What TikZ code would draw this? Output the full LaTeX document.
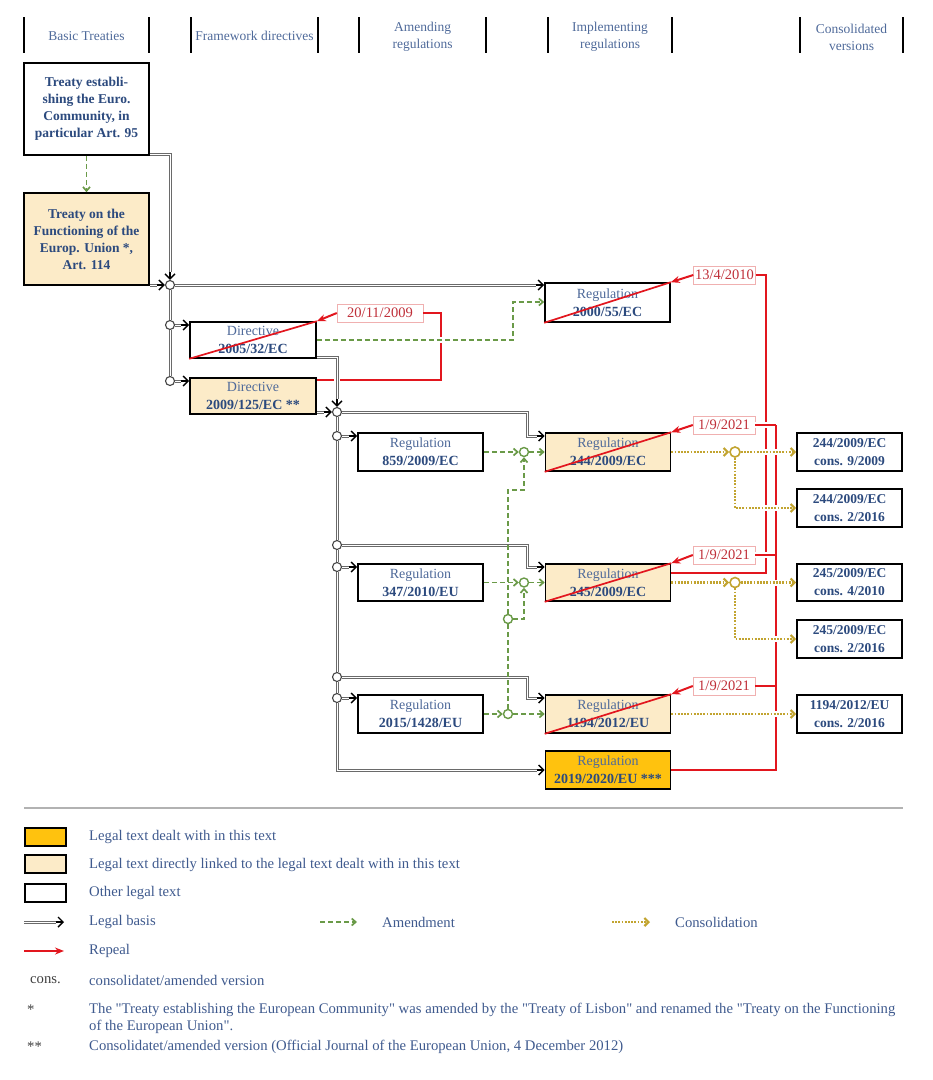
\documentclass[tikz,border=0pt]{standalone}
\usepackage{fontspec}
\setmainfont{Liberation Serif}
\newfontfamily\qfont[Ligatures=TeXOff]{Liberation Serif}
\usetikzlibrary{arrows.meta,calc}
\definecolor{hdblue}{HTML}{4F6A9A}
\definecolor{bxblue}{HTML}{2C4A7E}
\definecolor{rgblue}{HTML}{4F6A9A}
\definecolor{lgblue}{HTML}{3F5A8E}
\definecolor{lyel}{HTML}{FCEBC8}
\definecolor{mygold}{HTML}{FFC20E}
\definecolor{amgreen}{HTML}{6A9A48}
\definecolor{consc}{HTML}{C2A430}
\definecolor{rep}{HTML}{E2161E}
\definecolor{labred}{HTML}{C0303A}
\definecolor{labedge}{HTML}{F0B0B0}
\definecolor{lbgray}{HTML}{6A6A6A}
\definecolor{jgray}{HTML}{444444}
\tikzset{
 bx/.style={draw=black, line width=1.6pt, inner sep=0pt, align=center, text=bxblue,
   font=\fontsize{14}{18}\selectfont, minimum width=125pt, minimum height=38pt},
 tb/.style={bx, font=\fontsize{13.5}{17}\selectfont\bfseries, minimum height=92pt},
 cb/.style={bx, font=\fontsize{13.5}{18}\selectfont\bfseries, minimum width=105pt},
 jn/.style={circle, draw=jgray, fill=white, line width=1.1pt, inner sep=0pt, minimum size=9pt},
 gj/.style={jn, draw=amgreen, line width=1.4pt},
 yj/.style={jn, draw=consc, line width=1.6pt, minimum size=10pt},
 lbl/.style={draw=labedge, fill=white, text=labred, font=\fontsize{14.5}{16}\selectfont,
   inner sep=1pt, minimum height=18pt, minimum width=62pt},
 hd/.style={align=center, text=hdblue, font=\fontsize{13.5}{17}\selectfont, inner sep=0pt},
 lb/.style={draw=lbgray, line width=3pt, postaction={draw=white, line width=1pt}},
 halo/.style={preaction={draw=white, line width=6pt, solid, -}},
 lbtip/.style={draw=black, line width=1.4pt, -{Straight Barb[length=5pt,width=10pt]}},
 am/.style={draw=amgreen, line width=1.7pt, dash pattern=on 5pt off 3pt, -{Straight Barb[length=4pt,width=7pt]}},
 amn/.style={draw=amgreen, line width=1.7pt, dash pattern=on 5pt off 3pt},
 cn/.style={draw=consc, line width=2.2pt, dash pattern=on 1.8pt off 1.4pt, -{Straight Barb[length=4pt,width=8pt]}},
 rp/.style={draw=rep, line width=2.8pt},
 rpa/.style={draw=rep, line width=2pt, -{Stealth[length=9pt,width=7pt]}},
 strike/.style={draw=rep, line width=1.7pt},
 lgbox/.style={draw=black, line width=2pt, minimum width=41pt, minimum height=18pt, inner sep=0pt},
 lgt/.style={anchor=west, inner sep=0pt, text=lgblue, font=\fontsize{14.7}{17}\selectfont},
}
\newcommand{\rg}[1]{{\color{rgblue}Regulation}\\\textbf{#1}}
\newcommand{\qq}{{\qfont"}}
\begin{document}
\begin{tikzpicture}[x=1pt,y=-1pt]
\useasboundingbox (0,0) rectangle (933,1080);
% header
\foreach \xx in {24,149,191,318,359,486,548,672,800,903}
  \draw[line width=2pt] (\xx,17) -- (\xx,53);
\node[hd] (h1) at (86.5,36) {Basic Treaties};
\node[hd] (h2) at (254.5,36) {Framework directives};
\node[hd] (h3) at (422.5,37) {Amending\\regulations};
\node[hd] (h4) at (610,37) {Implementing\\regulations};
\node[hd] (h5) at (851.5,37) {Consolidated\\versions};
% boxes
\node[tb, fill=white] (tec) at (86.5,109) {Treaty establi-\\shing the Euro.\\Community, in\\particular Art. 95};
\node[tb, fill=lyel] (tfeu) at (86.5,239) {Treaty on the\\Functioning of the\\Europ. Union *,\\Art. 114};
\node[bx, fill=white, minimum width=126pt, minimum height=36pt] (dir2005) at (253,340) {{\color{rgblue}Directive}\\\textbf{2005/32/EC}};
\node[bx, fill=lyel, minimum width=126pt, minimum height=36pt] (dir2009) at (253,396) {{\color{rgblue}Directive}\\\textbf{2009/125/EC **}};
\node[bx, fill=white, minimum height=39pt] (r2000) at (607.5,302.5) {\rg{2000/55/EC}};
\node[bx, fill=white] (r859) at (420.5,452) {\rg{859/2009/EC}};
\node[bx, fill=lyel] (r244) at (608,452) {\rg{244/2009/EC}};
\node[bx, fill=white, minimum height=37pt] (r347) at (420.5,582.5) {\rg{347/2010/EU}};
\node[bx, fill=lyel, minimum height=37pt] (r245) at (608,582.5) {\rg{245/2009/EC}};
\node[bx, fill=white] (r2015) at (420.5,714) {\rg{2015/1428/EU}};
\node[bx, fill=lyel] (r1194) at (608,714) {\rg{1194/2012/EU}};
\node[bx, fill=mygold] (r2019) at (608,770) {\rg{2019/2020/EU ***}};
\node[cb, fill=white] (c1) at (849.5,452) {244/2009/EC\\cons. 9/2009};
\node[cb, fill=white] (c2) at (849.5,508) {244/2009/EC\\cons. 2/2016};
\node[cb, fill=white, minimum height=37pt] (c3) at (849.5,582.5) {245/2009/EC\\cons. 4/2010};
\node[cb, fill=white] (c4) at (849.5,639) {245/2009/EC\\cons. 2/2016};
\node[cb, fill=white] (c5) at (849.5,714) {1194/2012/EU\\cons. 2/2016};
% junctions
\node[jn] (J1) at (170,285) {};
\node[jn] (Ja) at (170,325) {};
\node[jn] (Jb) at (170,381) {};
\node[jn] (J2) at (337,412) {};
\node[jn] (Jc) at (337,436) {};
\node[jn] (Jd) at (337,545) {};
\node[jn] (Je) at (337,567) {};
\node[jn] (Jf) at (337,677) {};
\node[jn] (Jg) at (337,698) {};
\coordinate (Kb) at (337,770);
\node[gj] (G1) at (524,452) {};
\node[gj] (G2) at (524,582.5) {};
\node[gj] (G3) at (508,714) {};
\node[gj] (G4) at (508,619) {};
\node[yj] (Y1) at (735,452) {};
\node[yj] (Y2) at (735,582.5) {};
% labels
\node[lbl, minimum width=86pt] (lab1) at (380,313) {20/11/2009};
\node[lbl] (lab2) at (724.5,275) {13/4/2010};
\node[lbl] (lab3) at (724,425) {1/9/2021};
\node[lbl] (lab4) at (724,555) {1/9/2021};
\node[lbl] (lab5) at (724,686) {1/9/2021};
% ---- red repeal routes
\coordinate (p1) at (441,313);
\coordinate (p2) at (441,380);
\draw[rp] (lab1.east) -- (p1) -- (p2) -- (dir2009.east |- p2);
\coordinate (q1) at (766,275);
\coordinate (q2) at (766,573);
\draw[rp] (lab2.east) -- (q1) -- (q2) -- (r245.east |- q2);
\coordinate (s3) at (776,425);
\coordinate (s4) at (776,555);
\coordinate (s5) at (776,686);
\coordinate (s6) at (776,770);
\draw[rp, halo] (lab3.east) -- (s3);
\draw[rp, halo] (lab4.east) -- (s4);
\draw[rp] (lab5.east) -- (s5);
\draw[rp] (r2019.east) -- (s6) -- (s3);
% ---- legal basis
\draw[lb] ($(tec.south east)+(0,-1.5)$) -| ($(J1.north)+(0,-8)$);
\draw[lbtip] ($(J1.north)+(0,-8)$) -- (J1.north);
\draw[lb] (tfeu.east |- J1) -- ($(J1.west)+(-8,0)$);
\draw[lbtip] ($(J1.west)+(-8,0)$) -- (J1.west);
\draw[lb] (J1.east) -- ($(r2000.west |- J1)+(-8,0)$);
\draw[lbtip] ($(r2000.west |- J1)+(-8,0)$) -- (r2000.west |- J1);
\draw[lb] (J1.south) -- (Ja.north);
\draw[lb] (Ja.south) -- (Jb.north);
\draw[lb] (Ja.east) -- ($(dir2005.west |- Ja)+(-8,0)$);
\draw[lbtip] ($(dir2005.west |- Ja)+(-8,0)$) -- (dir2005.west |- Ja);
\draw[lb] (Jb.east) -- ($(dir2009.west |- Jb)+(-8,0)$);
\draw[lbtip] ($(dir2009.west |- Jb)+(-8,0)$) -- (dir2009.west |- Jb);
\draw[lb, halo] ($(dir2005.south east)+(0,-1.5)$) -| ($(J2.north)+(0,-8)$);
\draw[lbtip] ($(J2.north)+(0,-8)$) -- (J2.north);
\draw[lb] (dir2009.east |- J2) -- ($(J2.west)+(-8,0)$);
\draw[lbtip] ($(J2.west)+(-8,0)$) -- (J2.west);
\coordinate (m1) at (527,412);
\coordinate (m2) at (527,436);
\draw[lb] (J2.east) -- (m1) -- (m2) -- ($(r244.west |- m2)+(-8,0)$);
\draw[lbtip] ($(r244.west |- m2)+(-8,0)$) -- (r244.west |- m2);
\draw[lb] (J2.south) -- (Jc.north);
\draw[lb] (Jc.south) -- (Jd.north);
\draw[lb] (Jd.south) -- (Je.north);
\draw[lb] (Je.south) -- (Jf.north);
\draw[lb] (Jf.south) -- (Jg.north);
\draw[lb] (Jg.south) -- (Kb) -- ($(r2019.west |- Kb)+(-8,0)$);
\draw[lbtip] ($(r2019.west |- Kb)+(-8,0)$) -- (r2019.west |- Kb);
\draw[lb] (Jc.east) -- ($(r859.west |- Jc)+(-8,0)$);
\draw[lbtip] ($(r859.west |- Jc)+(-8,0)$) -- (r859.west |- Jc);
\draw[lb] (Je.east) -- ($(r347.west |- Je)+(-8,0)$);
\draw[lbtip] ($(r347.west |- Je)+(-8,0)$) -- (r347.west |- Je);
\draw[lb] (Jg.east) -- ($(r2015.west |- Jg)+(-8,0)$);
\draw[lbtip] ($(r2015.west |- Jg)+(-8,0)$) -- (r2015.west |- Jg);
\coordinate (m3) at (527,545);
\coordinate (m4) at (527,567);
\draw[lb] (Jd.east) -- (m3) -- (m4) -- ($(r245.west |- m4)+(-8,0)$);
\draw[lbtip] ($(r245.west |- m4)+(-8,0)$) -- (r245.west |- m4);
\coordinate (m5) at (527,677);
\coordinate (m6) at (527,698);
\draw[lb] (Jf.east) -- (m5) -- (m6) -- ($(r1194.west |- m6)+(-8,0)$);
\draw[lbtip] ($(r1194.west |- m6)+(-8,0)$) -- (r1194.west |- m6);
% ---- amendments
\draw[am] (tec.south) -- (tfeu.north);
\coordinate (g1) at (513,340);
\coordinate (g2) at (513,302);
\draw[am, halo] (dir2005.east) -- (g1) -- (g2) -- (r2000.west |- g2);
\draw[am] (r859.east) -- (G1.west);
\draw[am] (G1.east) -- (r244.west |- G1);
\draw[am] (r347.east) -- (G2.west);
\draw[am] (G2.east) -- (r245.west |- G2);
\draw[am] (r2015.east) -- (G3.west);
\draw[am] (G3.east) -- (r1194.west |- G3);
\draw[amn] (G3.north) -- (G4.south);
\coordinate (g3) at (508,490);
\draw[am] (G4.north) -- (g3) -| (G1.south);
\draw[am] (G4.east) -| (G2.south);
% ---- consolidations
\draw[cn] (r244.east) -- (Y1.west);
\draw[cn, halo] (Y1.east) -- (c1.west |- Y1);
\draw[cn, halo] (Y1.south) |- (c2.west);
\draw[cn] (r245.east) -- (Y2.west);
\draw[cn, halo] (Y2.east) -- (c3.west |- Y2);
\draw[cn, halo] (Y2.south) |- (c4.west);
\draw[cn, halo] (r1194.east) -- (c5.west);
% ---- strikes and repeal arrows
\foreach \b in {dir2005,r2000,r244,r245,r1194}
  \draw[strike] (\b.south west) -- (\b.north east);
\draw[rpa] (lab1.west) -- (dir2005.north east);
\draw[rpa] (lab2.west) -- (r2000.north east);
\draw[rpa] (lab3.west) -- (r244.north east);
\draw[rpa] (lab4.west) -- (r245.north east);
\draw[rpa] (lab5.west) -- (r1194.north east);
% ---- legend
\draw[gray!60, line width=1.2pt] (24,808) -- (903,808);
\node[lgbox, fill=mygold] (k1) at (45,837) {};
\node[lgbox, fill=lyel] (k2) at (45,864) {};
\node[lgbox, fill=white] (k3) at (45,893) {};
\node[lgt] (t1) at (89,837) {Legal text dealt with in this text};
\node[lgt] (t2) at (89,865) {Legal text directly linked to the legal text dealt with in this text};
\node[lgt] (t3) at (89,893) {Other legal text};
\coordinate (a1) at (24,922);
\coordinate (a2) at (56,922);
\coordinate (a3) at (64,922);
\draw[lb] (a1) -- (a2);
\draw[lbtip] (a2) -- (a3);
\node[lgt] (t4) at (89,922) {Legal basis};
\coordinate (b1) at (320,922);
\coordinate (b2) at (357,922);
\draw[am] (b1) -- (b2);
\node[lgt] (t5) at (382,922) {Amendment};
\coordinate (e1) at (612,922);
\coordinate (e2) at (650,922);
\draw[cn] (e1) -- (e2);
\node[lgt] (t6) at (675,922) {Consolidation};
\coordinate (f1) at (24,951);
\coordinate (f2) at (64,951);
\draw[rpa] (f1) -- (f2);
\node[lgt] (t7) at (89,951) {Repeal};
\node[lgt, text=black!75] (u1) at (30,980) {cons.};
\node[lgt] (t8) at (89,980) {consolidatet/amended version};
\node[lgt, text=black!75] (u2) at (27,1010) {*};
\node[lgt, anchor=north west, align=left] (t9) at (89,1003) {The \qq Treaty establishing the European Community\qq{} was amended by the \qq Treaty of Lisbon\qq{} and renamed the \qq Treaty on the Functioning\\of the European Union\qq.};
\node[lgt, text=black!75] (u3) at (27,1047) {**};
\node[lgt] (t10) at (89,1047) {Consolidatet/amended version (Official Journal of the European Union, 4 December 2012)};
\end{tikzpicture}
\end{document}
